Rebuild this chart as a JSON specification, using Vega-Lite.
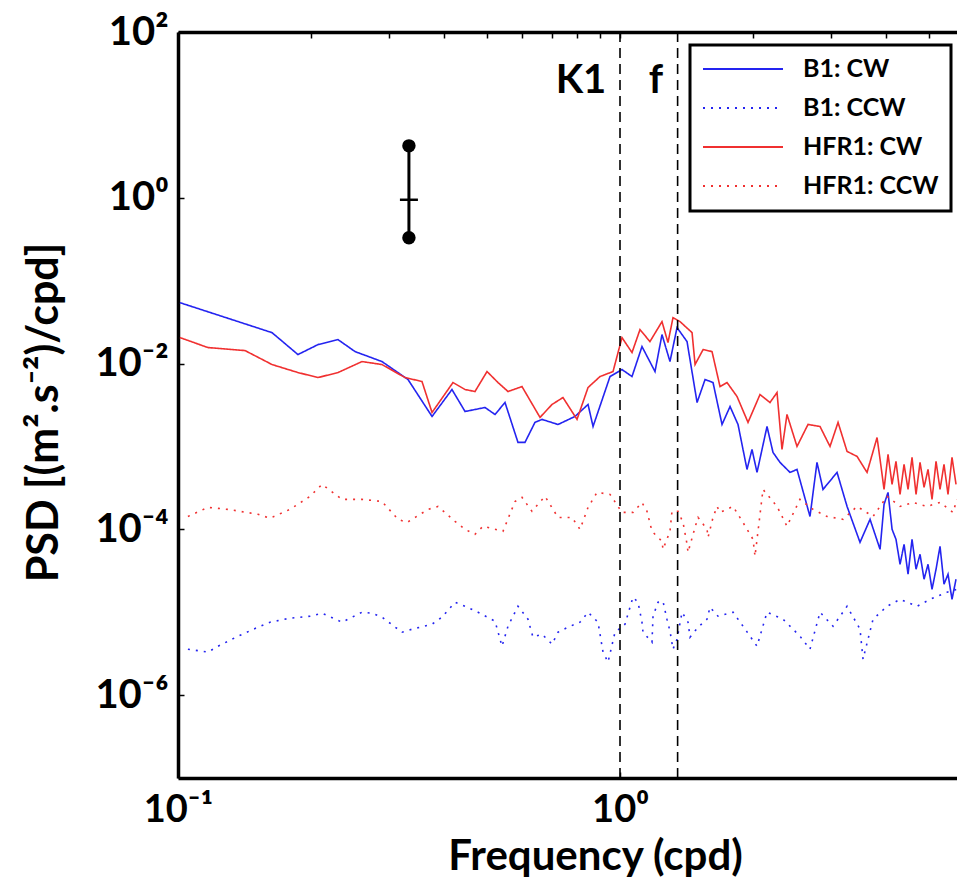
{
  "$schema": "https://vega.github.io/schema/vega-lite/v6.json",
  "width": 779,
  "height": 746,
  "autosize": {"type": "none"},
  "padding": {"left": 178, "top": 32, "right": 0, "bottom": 103},
  "background": "white",
  "layer": [
    {
      "data": {
        "values": [
          {"series": "B1: CW", "freq": 0.101, "psd": 0.0543},
          {"series": "B1: CW", "freq": 0.1632, "psd": 0.0236},
          {"series": "B1: CW", "freq": 0.1868, "psd": 0.01284},
          {"series": "B1: CW", "freq": 0.2074, "psd": 0.01694},
          {"series": "B1: CW", "freq": 0.2301, "psd": 0.01946},
          {"series": "B1: CW", "freq": 0.2515, "psd": 0.01395},
          {"series": "B1: CW", "freq": 0.2894, "psd": 0.01057},
          {"series": "B1: CW", "freq": 0.3314, "psd": 0.00642},
          {"series": "B1: CW", "freq": 0.3756, "psd": 0.0023},
          {"series": "B1: CW", "freq": 0.4167, "psd": 0.00486},
          {"series": "B1: CW", "freq": 0.4461, "psd": 0.00264},
          {"series": "B1: CW", "freq": 0.495, "psd": 0.00295},
          {"series": "B1: CW", "freq": 0.5215, "psd": 0.00243},
          {"series": "B1: CW", "freq": 0.5493, "psd": 0.00339},
          {"series": "B1: CW", "freq": 0.5877, "psd": 0.00112},
          {"series": "B1: CW", "freq": 0.6096, "psd": 0.00112},
          {"series": "B1: CW", "freq": 0.642, "psd": 0.00195},
          {"series": "B1: CW", "freq": 0.6661, "psd": 0.00212},
          {"series": "B1: CW", "freq": 0.724, "psd": 0.00184},
          {"series": "B1: CW", "freq": 0.791, "psd": 0.0023},
          {"series": "B1: CW", "freq": 0.8466, "psd": 0.00321},
          {"series": "B1: CW", "freq": 0.869, "psd": 0.00174},
          {"series": "B1: CW", "freq": 0.9493, "psd": 0.00697},
          {"series": "B1: CW", "freq": 1.0104, "psd": 0.00847},
          {"series": "B1: CW", "freq": 1.0645, "psd": 0.00697},
          {"series": "B1: CW", "freq": 1.1213, "psd": 0.01603},
          {"series": "B1: CW", "freq": 1.2, "psd": 0.00801},
          {"series": "B1: CW", "freq": 1.2445, "psd": 0.02236},
          {"series": "B1: CW", "freq": 1.2974, "psd": 0.01057},
          {"series": "B1: CW", "freq": 1.3459, "psd": 0.02715},
          {"series": "B1: CW", "freq": 1.418, "psd": 0.01841},
          {"series": "B1: CW", "freq": 1.494, "psd": 0.00339},
          {"series": "B1: CW", "freq": 1.5575, "psd": 0.00642},
          {"series": "B1: CW", "freq": 1.6235, "psd": 0.0059},
          {"series": "B1: CW", "freq": 1.7014, "psd": 0.00184},
          {"series": "B1: CW", "freq": 1.774, "psd": 0.00303},
          {"series": "B1: CW", "freq": 1.8493, "psd": 0.00184},
          {"series": "B1: CW", "freq": 1.938, "psd": 0.000528},
          {"series": "B1: CW", "freq": 1.989, "psd": 0.00092},
          {"series": "B1: CW", "freq": 2.0417, "psd": 0.000486},
          {"series": "B1: CW", "freq": 2.1508, "psd": 0.00174},
          {"series": "B1: CW", "freq": 2.219, "psd": 0.000847},
          {"series": "B1: CW", "freq": 2.3014, "psd": 0.000642},
          {"series": "B1: CW", "freq": 2.4245, "psd": 0.000486},
          {"series": "B1: CW", "freq": 2.5145, "psd": 0.000528},
          {"series": "B1: CW", "freq": 2.6904, "psd": 0.000143},
          {"series": "B1: CW", "freq": 2.7905, "psd": 0.000642},
          {"series": "B1: CW", "freq": 2.8794, "psd": 0.000303},
          {"series": "B1: CW", "freq": 3.0976, "psd": 0.000486},
          {"series": "B1: CW", "freq": 3.2636, "psd": 0.000189},
          {"series": "B1: CW", "freq": 3.4914, "psd": 0.0000697},
          {"series": "B1: CW", "freq": 3.6786, "psd": 0.000132},
          {"series": "B1: CW", "freq": 3.8757, "psd": 0.0000574},
          {"series": "B1: CW", "freq": 3.957, "psd": 0.0002},
          {"series": "B1: CW", "freq": 4.04, "psd": 0.000279},
          {"series": "B1: CW", "freq": 4.126, "psd": 0.0001},
          {"series": "B1: CW", "freq": 4.211, "psd": 0.0000758},
          {"series": "B1: CW", "freq": 4.301, "psd": 0.0000379},
          {"series": "B1: CW", "freq": 4.392, "psd": 0.000066},
          {"series": "B1: CW", "freq": 4.484, "psd": 0.0000287},
          {"series": "B1: CW", "freq": 4.578, "psd": 0.0000758},
          {"series": "B1: CW", "freq": 4.675, "psd": 0.000033},
          {"series": "B1: CW", "freq": 4.773, "psd": 0.00005},
          {"series": "B1: CW", "freq": 4.874, "psd": 0.000025},
          {"series": "B1: CW", "freq": 4.976, "psd": 0.0000379},
          {"series": "B1: CW", "freq": 5.081, "psd": 0.0000189},
          {"series": "B1: CW", "freq": 5.188, "psd": 0.000033},
          {"series": "B1: CW", "freq": 5.297, "psd": 0.0000624},
          {"series": "B1: CW", "freq": 5.408, "psd": 0.0000218},
          {"series": "B1: CW", "freq": 5.522, "psd": 0.0000287},
          {"series": "B1: CW", "freq": 5.638, "psd": 0.0000143},
          {"series": "B1: CW", "freq": 5.757, "psd": 0.000025},

          {"series": "HFR1: CW", "freq": 0.101, "psd": 0.02057},
          {"series": "HFR1: CW", "freq": 0.1169, "psd": 0.01559},
          {"series": "HFR1: CW", "freq": 0.1418, "psd": 0.01434},
          {"series": "HFR1: CW", "freq": 0.1632, "psd": 0.00973},
          {"series": "HFR1: CW", "freq": 0.1868, "psd": 0.00779},
          {"series": "HFR1: CW", "freq": 0.2074, "psd": 0.00678},
          {"series": "HFR1: CW", "freq": 0.2301, "psd": 0.00779},
          {"series": "HFR1: CW", "freq": 0.2608, "psd": 0.01057},
          {"series": "HFR1: CW", "freq": 0.2894, "psd": 0.00973},
          {"series": "HFR1: CW", "freq": 0.3263, "psd": 0.00678},
          {"series": "HFR1: CW", "freq": 0.3565, "psd": 0.00607},
          {"series": "HFR1: CW", "freq": 0.3756, "psd": 0.00257},
          {"series": "HFR1: CW", "freq": 0.4189, "psd": 0.0059},
          {"series": "HFR1: CW", "freq": 0.4461, "psd": 0.00486},
          {"series": "HFR1: CW", "freq": 0.4698, "psd": 0.0046},
          {"series": "HFR1: CW", "freq": 0.5002, "psd": 0.00801},
          {"series": "HFR1: CW", "freq": 0.5297, "psd": 0.0059},
          {"series": "HFR1: CW", "freq": 0.558, "psd": 0.0046},
          {"series": "HFR1: CW", "freq": 0.6001, "psd": 0.00528},
          {"series": "HFR1: CW", "freq": 0.6592, "psd": 0.00224},
          {"series": "HFR1: CW", "freq": 0.7018, "psd": 0.00321},
          {"series": "HFR1: CW", "freq": 0.743, "psd": 0.00389},
          {"series": "HFR1: CW", "freq": 0.7993, "psd": 0.00212},
          {"series": "HFR1: CW", "freq": 0.8466, "psd": 0.00514},
          {"series": "HFR1: CW", "freq": 0.9011, "psd": 0.00697},
          {"series": "HFR1: CW", "freq": 0.9643, "psd": 0.00801},
          {"series": "HFR1: CW", "freq": 1.0104, "psd": 0.02057},
          {"series": "HFR1: CW", "freq": 1.0645, "psd": 0.01357},
          {"series": "HFR1: CW", "freq": 1.1097, "psd": 0.02569},
          {"series": "HFR1: CW", "freq": 1.1688, "psd": 0.01841},
          {"series": "HFR1: CW", "freq": 1.2445, "psd": 0.03206},
          {"series": "HFR1: CW", "freq": 1.284, "psd": 0.01791},
          {"series": "HFR1: CW", "freq": 1.318, "psd": 0.03582},
          {"series": "HFR1: CW", "freq": 1.3671, "psd": 0.03206},
          {"series": "HFR1: CW", "freq": 1.4555, "psd": 0.0236},
          {"series": "HFR1: CW", "freq": 1.4785, "psd": 0.00973},
          {"series": "HFR1: CW", "freq": 1.5415, "psd": 0.01475},
          {"series": "HFR1: CW", "freq": 1.615, "psd": 0.01395},
          {"series": "HFR1: CW", "freq": 1.6836, "psd": 0.00528},
          {"series": "HFR1: CW", "freq": 1.7465, "psd": 0.0059},
          {"series": "HFR1: CW", "freq": 1.84, "psd": 0.004},
          {"series": "HFR1: CW", "freq": 1.9481, "psd": 0.00195},
          {"series": "HFR1: CW", "freq": 2.0737, "psd": 0.00423},
          {"series": "HFR1: CW", "freq": 2.1846, "psd": 0.00339},
          {"series": "HFR1: CW", "freq": 2.2659, "psd": 0.00447},
          {"series": "HFR1: CW", "freq": 2.3254, "psd": 0.00092},
          {"series": "HFR1: CW", "freq": 2.3867, "psd": 0.00243},
          {"series": "HFR1: CW", "freq": 2.5145, "psd": 0.001},
          {"series": "HFR1: CW", "freq": 2.6625, "psd": 0.00184},
          {"series": "HFR1: CW", "freq": 2.8346, "psd": 0.00174},
          {"series": "HFR1: CW", "freq": 2.9862, "psd": 0.001},
          {"series": "HFR1: CW", "freq": 3.1138, "psd": 0.00195},
          {"series": "HFR1: CW", "freq": 3.2636, "psd": 0.000871},
          {"series": "HFR1: CW", "freq": 3.438, "psd": 0.000758},
          {"series": "HFR1: CW", "freq": 3.6215, "psd": 0.000486},
          {"series": "HFR1: CW", "freq": 3.8155, "psd": 0.00128},
          {"series": "HFR1: CW", "freq": 3.876, "psd": 0.000697},
          {"series": "HFR1: CW", "freq": 3.957, "psd": 0.000303},
          {"series": "HFR1: CW", "freq": 4.04, "psd": 0.000801},
          {"series": "HFR1: CW", "freq": 4.126, "psd": 0.000349},
          {"series": "HFR1: CW", "freq": 4.211, "psd": 0.00066},
          {"series": "HFR1: CW", "freq": 4.301, "psd": 0.000264},
          {"series": "HFR1: CW", "freq": 4.392, "psd": 0.000607},
          {"series": "HFR1: CW", "freq": 4.484, "psd": 0.000303},
          {"series": "HFR1: CW", "freq": 4.578, "psd": 0.000737},
          {"series": "HFR1: CW", "freq": 4.675, "psd": 0.000264},
          {"series": "HFR1: CW", "freq": 4.773, "psd": 0.000642},
          {"series": "HFR1: CW", "freq": 4.874, "psd": 0.000321},
          {"series": "HFR1: CW", "freq": 4.976, "psd": 0.000528},
          {"series": "HFR1: CW", "freq": 5.081, "psd": 0.00023},
          {"series": "HFR1: CW", "freq": 5.188, "psd": 0.00066},
          {"series": "HFR1: CW", "freq": 5.297, "psd": 0.000303},
          {"series": "HFR1: CW", "freq": 5.408, "psd": 0.000607},
          {"series": "HFR1: CW", "freq": 5.522, "psd": 0.000264},
          {"series": "HFR1: CW", "freq": 5.638, "psd": 0.000737},
          {"series": "HFR1: CW", "freq": 5.757, "psd": 0.000349},

          {"series": "HFR1: CCW", "freq": 0.1053, "psd": 0.000143},
          {"series": "HFR1: CCW", "freq": 0.1169, "psd": 0.000184},
          {"series": "HFR1: CCW", "freq": 0.1298, "psd": 0.000174},
          {"series": "HFR1: CCW", "freq": 0.1517, "psd": 0.000152},
          {"series": "HFR1: CCW", "freq": 0.1615, "psd": 0.000136},
          {"series": "HFR1: CCW", "freq": 0.1792, "psd": 0.000174},
          {"series": "HFR1: CCW", "freq": 0.1989, "psd": 0.00025},
          {"series": "HFR1: CCW", "freq": 0.2118, "psd": 0.000349},
          {"series": "HFR1: CCW", "freq": 0.235, "psd": 0.00023},
          {"series": "HFR1: CCW", "freq": 0.2608, "psd": 0.00023},
          {"series": "HFR1: CCW", "freq": 0.2894, "psd": 0.000217},
          {"series": "HFR1: CCW", "freq": 0.3146, "psd": 0.000132},
          {"series": "HFR1: CCW", "freq": 0.3297, "psd": 0.000121},
          {"series": "HFR1: CCW", "freq": 0.3679, "psd": 0.000174},
          {"series": "HFR1: CCW", "freq": 0.3874, "psd": 0.000189},
          {"series": "HFR1: CCW", "freq": 0.4233, "psd": 0.000125},
          {"series": "HFR1: CCW", "freq": 0.4461, "psd": 0.0001},
          {"series": "HFR1: CCW", "freq": 0.4698, "psd": 0.0000871},
          {"series": "HFR1: CCW", "freq": 0.4898, "psd": 0.000109},
          {"series": "HFR1: CCW", "freq": 0.5436, "psd": 0.0000946},
          {"series": "HFR1: CCW", "freq": 0.5786, "psd": 0.000217},
          {"series": "HFR1: CCW", "freq": 0.6001, "psd": 0.000243},
          {"series": "HFR1: CCW", "freq": 0.6321, "psd": 0.000165},
          {"series": "HFR1: CCW", "freq": 0.6766, "psd": 0.00025},
          {"series": "HFR1: CCW", "freq": 0.724, "psd": 0.000139},
          {"series": "HFR1: CCW", "freq": 0.7788, "psd": 0.000139},
          {"series": "HFR1: CCW", "freq": 0.812, "psd": 0.0001},
          {"series": "HFR1: CCW", "freq": 0.8466, "psd": 0.000184},
          {"series": "HFR1: CCW", "freq": 0.8872, "psd": 0.000279},
          {"series": "HFR1: CCW", "freq": 0.9493, "psd": 0.000264},
          {"series": "HFR1: CCW", "freq": 1.0104, "psd": 0.00016},
          {"series": "HFR1: CCW", "freq": 1.07, "psd": 0.00016},
          {"series": "HFR1: CCW", "freq": 1.1213, "psd": 0.000211},
          {"series": "HFR1: CCW", "freq": 1.1509, "psd": 0.000165},
          {"series": "HFR1: CCW", "freq": 1.1814, "psd": 0.0000946},
          {"series": "HFR1: CCW", "freq": 1.2445, "psd": 0.0000717},
          {"series": "HFR1: CCW", "freq": 1.251, "psd": 0.0000574},
          {"series": "HFR1: CCW", "freq": 1.2974, "psd": 0.0000946},
          {"series": "HFR1: CCW", "freq": 1.311, "psd": 0.000165},
          {"series": "HFR1: CCW", "freq": 1.353, "psd": 0.000165},
          {"series": "HFR1: CCW", "freq": 1.3886, "psd": 0.000121},
          {"series": "HFR1: CCW", "freq": 1.418, "psd": 0.000066},
          {"series": "HFR1: CCW", "freq": 1.4253, "psd": 0.0000528},
          {"series": "HFR1: CCW", "freq": 1.4785, "psd": 0.000106},
          {"series": "HFR1: CCW", "freq": 1.5018, "psd": 0.000139},
          {"series": "HFR1: CCW", "freq": 1.5737, "psd": 0.0001},
          {"series": "HFR1: CCW", "freq": 1.5819, "psd": 0.0000801},
          {"series": "HFR1: CCW", "freq": 1.6235, "psd": 0.000139},
          {"series": "HFR1: CCW", "freq": 1.6577, "psd": 0.000189},
          {"series": "HFR1: CCW", "freq": 1.6836, "psd": 0.00016},
          {"series": "HFR1: CCW", "freq": 1.802, "psd": 0.000189},
          {"series": "HFR1: CCW", "freq": 1.898, "psd": 0.000121},
          {"series": "HFR1: CCW", "freq": 1.9995, "psd": 0.0000758},
          {"series": "HFR1: CCW", "freq": 2.0204, "psd": 0.0000473},
          {"series": "HFR1: CCW", "freq": 2.1063, "psd": 0.000303},
          {"series": "HFR1: CCW", "freq": 2.2659, "psd": 0.000189},
          {"series": "HFR1: CCW", "freq": 2.3867, "psd": 0.000109},
          {"series": "HFR1: CCW", "freq": 2.5538, "psd": 0.00023},
          {"series": "HFR1: CCW", "freq": 2.733, "psd": 0.000174},
          {"series": "HFR1: CCW", "freq": 2.9397, "psd": 0.000143},
          {"series": "HFR1: CCW", "freq": 3.196, "psd": 0.000132},
          {"series": "HFR1: CCW", "freq": 3.438, "psd": 0.000189},
          {"series": "HFR1: CCW", "freq": 3.7367, "psd": 0.000143},
          {"series": "HFR1: CCW", "freq": 4.0191, "psd": 0.00025},
          {"series": "HFR1: CCW", "freq": 4.3014, "psd": 0.000189},
          {"series": "HFR1: CCW", "freq": 4.6023, "psd": 0.000211},
          {"series": "HFR1: CCW", "freq": 4.9508, "psd": 0.000189},
          {"series": "HFR1: CCW", "freq": 5.297, "psd": 0.000211},
          {"series": "HFR1: CCW", "freq": 5.6679, "psd": 0.00016},
          {"series": "HFR1: CCW", "freq": 5.7866, "psd": 0.00023},

          {"series": "B1: CCW", "freq": 0.1053, "psd": 0.00000358},
          {"series": "B1: CCW", "freq": 0.1169, "psd": 0.0000033},
          {"series": "B1: CCW", "freq": 0.1232, "psd": 0.00000389},
          {"series": "B1: CCW", "freq": 0.1367, "psd": 0.00000514},
          {"series": "B1: CCW", "freq": 0.1517, "psd": 0.0000066},
          {"series": "B1: CCW", "freq": 0.1615, "psd": 0.00000758},
          {"series": "B1: CCW", "freq": 0.1792, "psd": 0.00000847},
          {"series": "B1: CCW", "freq": 0.1989, "psd": 0.00000895},
          {"series": "B1: CCW", "freq": 0.2118, "psd": 0.00000973},
          {"series": "B1: CCW", "freq": 0.235, "psd": 0.00000758},
          {"series": "B1: CCW", "freq": 0.2608, "psd": 0.00001},
          {"series": "B1: CCW", "freq": 0.2747, "psd": 0.00000973},
          {"series": "B1: CCW", "freq": 0.2894, "psd": 0.00000871},
          {"series": "B1: CCW", "freq": 0.3212, "psd": 0.00000574},
          {"series": "B1: CCW", "freq": 0.3384, "psd": 0.00000624},
          {"series": "B1: CCW", "freq": 0.3756, "psd": 0.00000717},
          {"series": "B1: CCW", "freq": 0.3956, "psd": 0.00000871},
          {"series": "B1: CCW", "freq": 0.4233, "psd": 0.0000132},
          {"series": "B1: CCW", "freq": 0.4508, "psd": 0.0000115},
          {"series": "B1: CCW", "freq": 0.4772, "psd": 0.00001},
          {"series": "B1: CCW", "freq": 0.5215, "psd": 0.00000779},
          {"series": "B1: CCW", "freq": 0.5408, "psd": 0.00000389},
          {"series": "B1: CCW", "freq": 0.558, "psd": 0.00000678},
          {"series": "B1: CCW", "freq": 0.5877, "psd": 0.0000118},
          {"series": "B1: CCW", "freq": 0.6191, "psd": 0.00000824},
          {"series": "B1: CCW", "freq": 0.6354, "psd": 0.000005},
          {"series": "B1: CCW", "freq": 0.6661, "psd": 0.00000543},
          {"series": "B1: CCW", "freq": 0.7018, "psd": 0.00000412},
          {"series": "B1: CCW", "freq": 0.724, "psd": 0.00000574},
          {"series": "B1: CCW", "freq": 0.7627, "psd": 0.0000066},
          {"series": "B1: CCW", "freq": 0.812, "psd": 0.00000758},
          {"series": "B1: CCW", "freq": 0.8466, "psd": 0.00001},
          {"series": "B1: CCW", "freq": 0.8918, "psd": 0.00000758},
          {"series": "B1: CCW", "freq": 0.9153, "psd": 0.0000033},
          {"series": "B1: CCW", "freq": 0.9395, "psd": 0.0000025},
          {"series": "B1: CCW", "freq": 0.9743, "psd": 0.00000574},
          {"series": "B1: CCW", "freq": 1.0263, "psd": 0.00000717},
          {"series": "B1: CCW", "freq": 1.07, "psd": 0.0000152},
          {"series": "B1: CCW", "freq": 1.0983, "psd": 0.0000132},
          {"series": "B1: CCW", "freq": 1.1213, "psd": 0.00000758},
          {"series": "B1: CCW", "freq": 1.1272, "psd": 0.00000574},
          {"series": "B1: CCW", "freq": 1.1814, "psd": 0.00000435},
          {"series": "B1: CCW", "freq": 1.1876, "psd": 0.00000895},
          {"series": "B1: CCW", "freq": 1.219, "psd": 0.0000132},
          {"series": "B1: CCW", "freq": 1.251, "psd": 0.0000136},
          {"series": "B1: CCW", "freq": 1.277, "psd": 0.00000824},
          {"series": "B1: CCW", "freq": 1.2974, "psd": 0.0000059},
          {"series": "B1: CCW", "freq": 1.318, "psd": 0.00000358},
          {"series": "B1: CCW", "freq": 1.3459, "psd": 0.00000473},
          {"series": "B1: CCW", "freq": 1.3814, "psd": 0.00001},
          {"series": "B1: CCW", "freq": 1.4253, "psd": 0.00000758},
          {"series": "B1: CCW", "freq": 1.4401, "psd": 0.000005},
          {"series": "B1: CCW", "freq": 1.5018, "psd": 0.0000066},
          {"series": "B1: CCW", "freq": 1.5737, "psd": 0.00000824},
          {"series": "B1: CCW", "freq": 1.5982, "psd": 0.0000115},
          {"series": "B1: CCW", "freq": 1.6664, "psd": 0.00000895},
          {"series": "B1: CCW", "freq": 1.802, "psd": 0.00001},
          {"series": "B1: CCW", "freq": 1.898, "psd": 0.00000678},
          {"series": "B1: CCW", "freq": 2.0417, "psd": 0.00000389},
          {"series": "B1: CCW", "freq": 2.1508, "psd": 0.00001},
          {"series": "B1: CCW", "freq": 2.3377, "psd": 0.00000824},
          {"series": "B1: CCW", "freq": 2.5538, "psd": 0.00000514},
          {"series": "B1: CCW", "freq": 2.6904, "psd": 0.00000358},
          {"series": "B1: CCW", "freq": 2.8346, "psd": 0.00001},
          {"series": "B1: CCW", "freq": 3.0336, "psd": 0.00000678},
          {"series": "B1: CCW", "freq": 3.2636, "psd": 0.0000118},
          {"series": "B1: CCW", "freq": 3.4914, "psd": 0.00000624},
          {"series": "B1: CCW", "freq": 3.5466, "psd": 0.00000272},
          {"series": "B1: CCW", "freq": 3.7367, "psd": 0.00000824},
          {"series": "B1: CCW", "freq": 4.0191, "psd": 0.0000118},
          {"series": "B1: CCW", "freq": 4.3014, "psd": 0.0000143},
          {"series": "B1: CCW", "freq": 4.6989, "psd": 0.0000118},
          {"series": "B1: CCW", "freq": 5.029, "psd": 0.0000143},
          {"series": "B1: CCW", "freq": 5.4937, "psd": 0.0000174},
          {"series": "B1: CCW", "freq": 5.7866, "psd": 0.0000189}
        ]
      },
      "mark": {"type": "line", "strokeWidth": 1.6, "clip": true},
      "encoding": {
        "x": {
          "field": "freq",
          "type": "quantitative",
          "scale": {"type": "log", "domain": [0.1, 5.7866], "nice": false},
          "axis": {
            "orient": "bottom",
            "values": [0.1, 1],
            "labelExpr": "datum.value < 0.5 ? '10⁻¹' : '10⁰'",
            "labelFlush": false,
            "labelFontSize": 38,
            "labelPadding": 19,
            "tickSize": -6,
            "tickWidth": 1.5,
            "domainWidth": 3.5,
            "title": "Frequency (cpd)",
            "titleFontSize": 42,
            "titleX": 417,
            "titleY": 91,
            "titleBaseline": "alphabetic",
            "titleAlign": "center"
          }
        },
        "y": {
          "field": "psd",
          "type": "quantitative",
          "scale": {"type": "log", "domain": [0.0000001, 100], "nice": false},
          "axis": {
            "orient": "left",
            "values": [100, 1, 0.01, 0.0001, 0.000001],
            "labelExpr": "datum.value > 10 ? '10²' : datum.value > 0.1 ? '10⁰' : datum.value > 0.001 ? '10⁻²' : datum.value > 0.00001 ? '10⁻⁴' : '10⁻⁶'",
            "labelFontSize": 40,
            "labelPadding": 16,
            "labelBaseline": "middle",
            "labelFlush": false,
            "tickSize": -6,
            "tickWidth": 1.5,
            "domainWidth": 3.5,
            "title": "PSD [(m².s⁻²)/cpd]",
            "titleFontSize": 43,
            "titleX": -134,
            "titleY": 380,
            "titleAngle": -90,
            "titleBaseline": "middle",
            "titleAlign": "center"
          }
        },
        "color": {
          "field": "series",
          "type": "nominal",
          "title": null,
          "scale": {
            "domain": ["B1: CW", "B1: CCW", "HFR1: CW", "HFR1: CCW"],
            "range": ["#2424f0", "#2424f0", "#f03030", "#f03030"]
          }
        },
        "strokeDash": {
          "field": "series",
          "type": "nominal",
          "title": null,
          "scale": {
            "domain": ["B1: CW", "B1: CCW", "HFR1: CW", "HFR1: CCW"],
            "range": [[1, 0], [2, 6], [1, 0], [2, 6]]
          }
        }
      }
    },
    {
      "data": {"values": [{"freq": 1.0}, {"freq": 1.35}]},
      "mark": {"type": "rule", "color": "black", "strokeWidth": 1.6, "strokeDash": [10, 6]},
      "encoding": {
        "x": {
          "field": "freq",
          "type": "quantitative",
          "scale": {"type": "log"},
          "axis": {
            "orient": "top",
            "values": [0.1, 0.2, 0.3, 0.4, 0.5, 0.6, 0.7, 0.8, 0.9, 1, 2, 3, 4, 5],
            "labels": false,
            "title": null,
            "tickSize": -6,
            "tickWidth": 1.5,
            "domainWidth": 3.5
          }
        }
      }
    },
    {
      "data": {
        "values": [
          {"freq": 0.816, "psd": 25.7, "label": "K1"},
          {"freq": 1.206, "psd": 25.7, "label": "f"}
        ]
      },
      "mark": {"type": "text", "font": "Lato", "fontSize": 40, "fontWeight": "bold", "color": "black", "baseline": "middle", "align": "center"},
      "encoding": {
        "x": {"field": "freq", "type": "quantitative", "scale": {"type": "log"}, "axis": null},
        "y": {"field": "psd", "type": "quantitative", "scale": {"type": "log"}, "axis": null},
        "text": {"field": "label"}
      }
    },
    {
      "data": {"values": [{"freq": 0.333, "lo": 0.33, "mid": 0.946, "hi": 4.23}]},
      "layer": [
        {
          "mark": {"type": "rule", "color": "black", "strokeWidth": 3},
          "encoding": {
            "x": {"field": "freq", "type": "quantitative", "scale": {"type": "log"}, "axis": null},
            "y": {
              "field": "lo",
              "type": "quantitative",
              "scale": {"type": "log"},
              "axis": {
                "orient": "right",
                "values": [100, 1, 0.01, 0.0001, 0.000001],
                "labels": false,
                "domain": false,
                "title": null,
                "tickSize": -5,
                "tickWidth": 1.5
              }
            },
            "y2": {"field": "hi"}
          }
        },
        {
          "mark": {"type": "point", "filled": true, "color": "black", "size": 180, "opacity": 1},
          "encoding": {
            "x": {"field": "freq", "type": "quantitative", "scale": {"type": "log"}, "axis": null},
            "y": {"field": "lo", "type": "quantitative", "scale": {"type": "log"}, "axis": null}
          }
        },
        {
          "mark": {"type": "point", "filled": true, "color": "black", "size": 180, "opacity": 1},
          "encoding": {
            "x": {"field": "freq", "type": "quantitative", "scale": {"type": "log"}, "axis": null},
            "y": {"field": "hi", "type": "quantitative", "scale": {"type": "log"}, "axis": null}
          }
        },
        {
          "mark": {"type": "tick", "orient": "horizontal", "color": "black", "size": 18, "thickness": 2.5, "opacity": 1},
          "encoding": {
            "x": {"field": "freq", "type": "quantitative", "scale": {"type": "log"}, "axis": null},
            "y": {"field": "mid", "type": "quantitative", "scale": {"type": "log"}, "axis": null}
          }
        }
      ]
    }
  ],
  "config": {
    "view": {"stroke": null},
    "font": "Lato",
    "axis": {
      "labelFont": "Lato",
      "titleFont": "Lato",
      "labelFontWeight": "bold",
      "titleFontWeight": "bold",
      "labelColor": "black",
      "titleColor": "black",
      "domainColor": "black",
      "tickColor": "black",
      "grid": false
    },
    "legend": {
      "orient": "none",
      "legendX": 512,
      "legendY": 13,
      "strokeColor": "black",
      "strokeWidth": 3,
      "fillColor": "white",
      "padding": 12,
      "symbolType": "stroke",
      "symbolSize": 6400,
      "symbolStrokeWidth": 2,
      "clipHeight": 24,
      "labelFont": "Lato",
      "labelFontSize": 25,
      "labelFontWeight": "bold",
      "labelColor": "black",
      "labelOffset": 19,
      "rowPadding": 14
    }
  }
}
